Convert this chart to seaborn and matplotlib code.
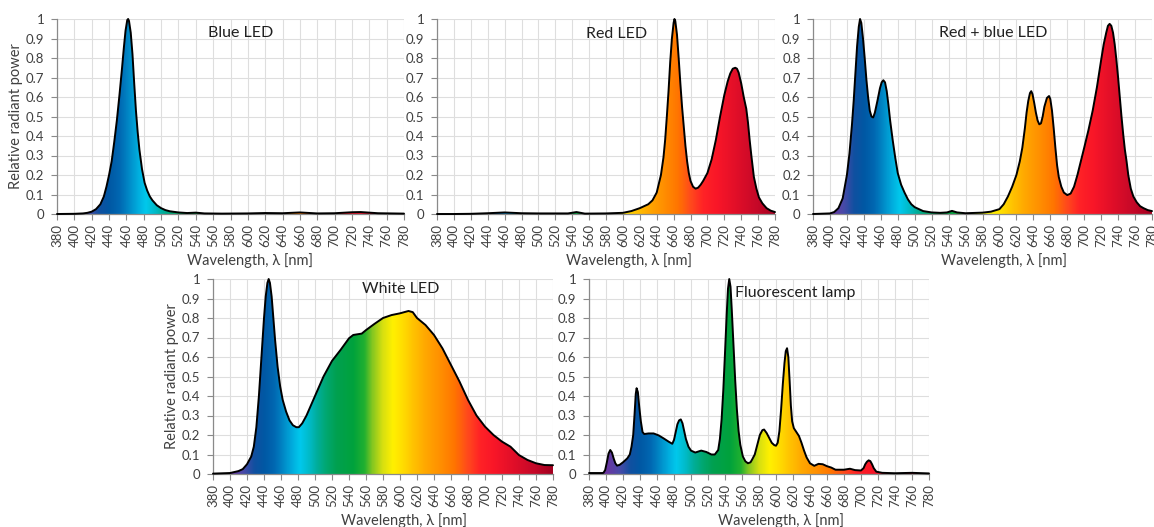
import numpy as np
import matplotlib
matplotlib.use("Agg")
import matplotlib.pyplot as plt
import seaborn as sns
from matplotlib.colors import LinearSegmentedColormap

# ---------------- data ----------------
blue_wl = [380, 400, 410, 415, 420, 425, 430, 434, 437, 440, 443, 446, 449, 452, 455, 457, 459,
           461, 462, 463, 465, 467, 469, 471, 473, 475, 478, 481, 484, 487, 490, 495, 500, 505,
           510, 520, 530, 540, 550, 570, 600, 620, 640, 660, 680, 700, 720, 730, 750, 780]
blue_val = [0, 0.001, 0.003, 0.006, 0.012, 0.025, 0.05, 0.09, 0.14, 0.2, 0.27, 0.37, 0.48, 0.61,
            0.75, 0.85, 0.94, 0.995, 1.0, 0.99, 0.93, 0.82, 0.67, 0.53, 0.42, 0.33, 0.23, 0.16,
            0.12, 0.09, 0.07, 0.045, 0.03, 0.02, 0.014, 0.008, 0.005, 0.007, 0.003, 0.002, 0.003,
            0.005, 0.004, 0.008, 0.003, 0.004, 0.009, 0.01, 0.004, 0.002]

red_wl = [380, 400, 420, 440, 460, 480, 500, 520, 535, 545, 555, 580, 600, 610, 620, 630, 635,
          640, 645, 648, 650, 652, 654, 656, 658, 660, 661, 662, 664, 666, 668, 670, 672, 674,
          676, 678, 680, 683, 686, 689, 692, 695, 700, 705, 710, 715, 720, 724, 727, 730, 733,
          735, 737, 740, 743, 746, 748, 750, 752, 755, 758, 761, 765, 770, 775, 780]
red_val = [0, 0, 0.001, 0.004, 0.008, 0.004, 0.003, 0.003, 0.003, 0.01, 0.002, 0.003, 0.006,
           0.015, 0.03, 0.05, 0.07, 0.11, 0.2, 0.29, 0.38, 0.5, 0.63, 0.78, 0.9, 0.98, 1.0,
           0.99, 0.92, 0.8, 0.67, 0.55, 0.45, 0.35, 0.27, 0.21, 0.17, 0.14, 0.13, 0.135, 0.15,
           0.17, 0.21, 0.28, 0.38, 0.5, 0.61, 0.68, 0.72, 0.745, 0.75, 0.745, 0.725, 0.67, 0.6,
           0.54, 0.47, 0.38, 0.3, 0.19, 0.13, 0.085, 0.055, 0.03, 0.017, 0.01]

rb_wl = [380, 400, 405, 410, 415, 420, 423, 426, 428, 430, 432, 434, 435.5, 437, 439, 441, 443,
         445, 447, 449, 451, 453, 456, 459, 461, 463, 465, 467, 469, 471, 474, 477, 480, 484,
         488, 492, 496, 500, 510, 520, 530, 538, 544, 550, 560, 580, 590, 600, 605, 610, 615,
         620, 624, 627, 630, 632, 634, 636, 637.5, 639, 641, 643, 645, 647, 649, 651, 653, 656,
         658.5, 660, 662, 664, 666, 668, 670, 673, 676, 680, 684, 688, 692, 696, 700, 705, 710,
         715, 720, 723, 726, 728, 730, 732, 734, 736, 738, 740, 742, 744, 746, 748, 750, 752,
         755, 758, 762, 766, 770, 775, 780]
rb_val = [0, 0.003, 0.01, 0.03, 0.08, 0.2, 0.31, 0.46, 0.58, 0.72, 0.86, 0.96, 1.0, 0.98, 0.9,
          0.8, 0.69, 0.6, 0.53, 0.5, 0.495, 0.52, 0.58, 0.645, 0.675, 0.686, 0.675, 0.63, 0.56,
          0.48, 0.38, 0.29, 0.21, 0.15, 0.11, 0.075, 0.05, 0.035, 0.015, 0.008, 0.006, 0.008,
          0.016, 0.008, 0.004, 0.007, 0.012, 0.025, 0.05, 0.09, 0.14, 0.2, 0.27, 0.34, 0.44,
          0.52, 0.58, 0.62, 0.63, 0.615, 0.57, 0.52, 0.48, 0.46, 0.465, 0.5, 0.55, 0.595, 0.605,
          0.59, 0.53, 0.44, 0.34, 0.25, 0.19, 0.14, 0.11, 0.097, 0.105, 0.14, 0.2, 0.27, 0.34,
          0.43, 0.53, 0.65, 0.79, 0.87, 0.93, 0.965, 0.975, 0.965, 0.93, 0.87, 0.79, 0.7, 0.6,
          0.5, 0.41, 0.33, 0.27, 0.2, 0.13, 0.09, 0.06, 0.04, 0.03, 0.02, 0.015]

white_wl = [380, 400, 410, 415, 420, 425, 428, 431, 434, 437, 440, 442, 444, 445.5, 447, 449,
            451, 453, 456, 459, 462, 466, 470, 474, 478, 481, 485, 490, 500, 510, 520, 530, 540,
            545, 555, 560, 570, 580, 590, 600, 610, 615, 620, 630, 640, 650, 660, 670, 680, 690,
            700, 710, 720, 730, 740, 750, 760, 770, 780]
white_val = [0.002, 0.005, 0.015, 0.025, 0.05, 0.09, 0.14, 0.24, 0.4, 0.6, 0.8, 0.91, 0.98, 1.0,
             0.98, 0.91, 0.8, 0.69, 0.55, 0.45, 0.38, 0.32, 0.275, 0.25, 0.24, 0.24, 0.26, 0.3,
             0.4, 0.5, 0.58, 0.636, 0.696, 0.713, 0.72, 0.738, 0.77, 0.8, 0.815, 0.824, 0.836,
             0.83, 0.8, 0.764, 0.713, 0.644, 0.559, 0.474, 0.38, 0.3, 0.243, 0.2, 0.166, 0.14,
             0.097, 0.072, 0.055, 0.046, 0.045]

fluo_wl = [380, 395, 397, 399, 401, 403, 405, 407, 409, 411, 413, 416, 420, 425, 428, 430, 432,
           433.5, 435, 436, 437.5, 439, 441, 443, 445, 450, 456, 462, 468, 474, 478, 480, 482,
           484, 486, 488, 490, 492, 494, 497, 500, 505, 512, 518, 524, 528, 532, 534, 536, 538,
           540, 542, 543.5, 545, 546.5, 548, 550, 552, 554, 556, 558, 561, 564, 567, 570, 572,
           575, 578, 581, 584, 586, 589, 592, 595, 598, 600, 602, 604, 606, 608, 610, 611.5, 613,
           614.5, 616, 617.5, 619, 621, 624, 627, 630, 633, 636, 640, 645, 650, 655, 660, 665,
           670, 680, 687, 693, 700, 703, 705, 707, 709, 711, 713, 715, 718, 725, 740, 760, 780]
fluo_val = [0.005, 0.005, 0.006, 0.02, 0.06, 0.105, 0.123, 0.11, 0.08, 0.055, 0.043, 0.047,
            0.06, 0.08, 0.1, 0.14, 0.2, 0.3, 0.41, 0.44, 0.42, 0.35, 0.27, 0.215, 0.205, 0.208,
            0.208, 0.198, 0.182, 0.165, 0.155, 0.175, 0.215, 0.255, 0.275, 0.28, 0.26, 0.22, 0.18,
            0.14, 0.12, 0.11, 0.12, 0.113, 0.1, 0.1, 0.123, 0.18, 0.28, 0.43, 0.62, 0.82, 0.95,
            1.0, 0.96, 0.84, 0.66, 0.48, 0.33, 0.22, 0.15, 0.09, 0.065, 0.055, 0.06, 0.075, 0.1,
            0.15, 0.2, 0.225, 0.228, 0.21, 0.185, 0.16, 0.148, 0.145, 0.16, 0.22, 0.33, 0.46,
            0.57, 0.63, 0.645, 0.6, 0.48, 0.35, 0.27, 0.235, 0.215, 0.195, 0.16, 0.12, 0.085,
            0.055, 0.042, 0.052, 0.05, 0.04, 0.033, 0.022, 0.022, 0.027, 0.02, 0.018, 0.03, 0.05,
            0.063, 0.07, 0.066, 0.05, 0.03, 0.012, 0.006, 0.004, 0.006, 0.003]

titles = ["Blue LED", "Red LED", "Red + blue LED", "White LED", "Fluorescent lamp"]
x_ticks = list(range(380, 781, 20))
y_ticks = [0, 0.1, 0.2, 0.3, 0.4, 0.5, 0.6, 0.7, 0.8, 0.9, 1]
y_tick_labels = ["0", "0.1", "0.2", "0.3", "0.4", "0.5", "0.6", "0.7", "0.8", "0.9", "1"]
x_label = "Wavelength, λ [nm]"
y_label = "Relative radiant power"

# ---------------- style ----------------
sns.set_theme(style="white")
plt.rcParams['font.family'] = ['Lato', 'DejaVu Sans']

spectrum_stops = [(380, '#5a2d8c'), (400, '#6a35a0'), (415, '#4a4aa8'), (428, '#1050a0'),
                  (440, '#0058a4'), (452, '#0068b2'), (462, '#0088c6'), (472, '#00aadc'),
                  (482, '#00c8ec'), (492, '#00bccc'), (502, '#00ae9c'), (512, '#00a874'),
                  (525, '#00a050'), (545, '#00a23c'), (558, '#20b030'), (568, '#88c820'),
                  (580, '#d8e010'), (592, '#fff000'), (602, '#ffe000'), (615, '#ffc400'),
                  (630, '#ffa800'), (650, '#ff8c00'), (665, '#ff7400'), (680, '#ff4a1c'),
                  (695, '#ff2226'), (712, '#f81628'), (735, '#e00e28'), (760, '#c40828'),
                  (780, '#a40020')]
cmap = LinearSegmentedColormap.from_list(
    'spectrum', [((w - 380) / 400, c) for w, c in spectrum_stops])

W, H = 1154, 527
fig = plt.figure(figsize=(W / 100, H / 100), dpi=100)
fig.patch.set_facecolor('white')

panels = [
    # (left, right, top, bottom) px, data, title pos (axes frac), ylabel?, xlabel x frac
    ((57, 404, 19, 214), blue_wl, blue_val, titles[0], (0.528, 0.93), True, 0.556),
    ((437, 775, 19, 214), red_wl, red_val, titles[1], (0.53, 0.925), False, 0.567),
    ((813, 1152, 19, 214), rb_wl, rb_val, titles[2], (0.532, 0.93), False, 0.563),
    ((213, 553, 279, 474), white_wl, white_val, titles[3], (0.551, 0.948), True, 0.562),
    ((589, 929, 279, 474), fluo_wl, fluo_val, titles[4], (0.606, 0.927), False, 0.565),
]

grad = np.linspace(380, 780, 801)[None, :]
tick_color = '#404040'

for (l, r, t, b), wl, val, title, tpos, has_ylabel, xlx in panels:
    ax = fig.add_axes([l / W, (H - b) / H, (r - l) / W, (b - t) / H])
    poly = ax.fill_between(wl, val, 0, facecolor='none', edgecolor='none')
    im = ax.imshow(grad, extent=[380, 780, 0, 1], aspect='auto', cmap=cmap,
                   vmin=380, vmax=780, origin='lower', zorder=2, interpolation='bilinear')
    im.set_clip_path(poly.get_paths()[0], transform=ax.transData)
    sns.lineplot(x=wl, y=val, ax=ax, color='black', lw=1.4, zorder=3,
                 estimator=None, sort=False)
    for ln in ax.lines:
        ln.set_clip_on(False)
        ln.set_solid_joinstyle('round')
    ax.set_xlim(380, 780)
    ax.set_ylim(0, 1)
    ax.set_xticks(x_ticks)
    ax.set_xticklabels([str(v) for v in x_ticks], rotation=90)
    ax.set_yticks(y_ticks)
    ax.set_yticklabels(y_tick_labels)
    ax.grid(True, color='#dedede', lw=0.8)
    ax.set_axisbelow(True)
    for s in ['top', 'right']:
        ax.spines[s].set_visible(False)
    for s in ['left', 'bottom']:
        ax.spines[s].set_color('#8a8a8a')
        ax.spines[s].set_linewidth(0.9)
    ax.tick_params(axis='both', which='major', length=4, width=0.8, color='#8a8a8a',
                   labelsize=9.5, labelcolor=tick_color, pad=3)
    ax.tick_params(axis='y', pad=5)
    ax.tick_params(left=True, bottom=True)
    ax.set_xlabel(x_label, fontsize=10.5, color=tick_color, labelpad=3)
    ax.xaxis.set_label_coords(xlx, -0.2)
    ax.xaxis.label.set_verticalalignment('top')
    if has_ylabel:
        ax.set_ylabel(y_label, fontsize=10.5, color=tick_color, labelpad=2)
    else:
        ax.set_ylabel('')
    ax.text(tpos[0], tpos[1], title, transform=ax.transAxes, ha='center', va='center',
            fontsize=11.5, color='#202020', zorder=5)

fig.savefig('out.png', dpi=100, facecolor='white')
